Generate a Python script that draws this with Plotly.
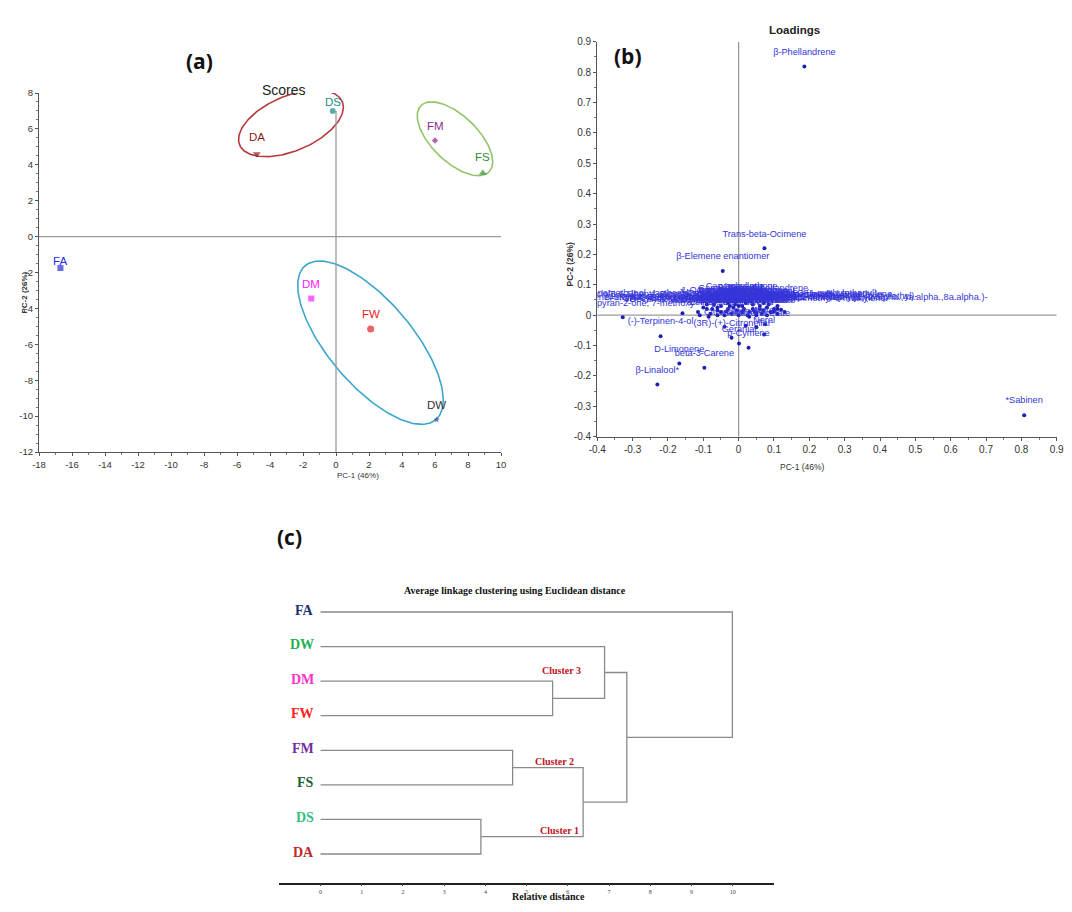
import numpy as np
import plotly.graph_objects as go

W, H = 1072, 912

# ---------------- data: (a) PCA scores ----------------
score_names = ["DS", "DA", "FM", "FS", "FA", "DM", "FW", "DW"]
score_pc1 = [-0.2, -4.8, 6.0, 8.9, -16.7, -1.5, 2.1, 6.1]
score_pc2 = [7.0, 4.6, 5.35, 3.55, -1.75, -3.45, -5.15, -10.2]
a_xticks = [-18, -16, -14, -12, -10, -8, -6, -4, -2, 0, 2, 4, 6, 8, 10]
a_yticks = [-12, -10, -8, -6, -4, -2, 0, 2, 4, 6, 8]

# ---------------- data: (b) PCA loadings ----------------
loading_names = [
    "β-Phellandrene", "Trans-beta-Ocimene", "β-Elemene enantiomer", "*Sabinen",
    "(-)-Terpinen-4-ol", "D-Limonene", "beta-3-Carene", "β-Linalool*",
    "(3R)-(+)-Citronellal", "Geranial", "p-Cymene", "Neral",
    "Citronellal", "Citronellol", "Geraniol acetate", "Nerol",
    "2H-1-Benzopyran-2-one, 7-methoxy-", "Decanoic acid, ethyl ester",
    "2H-Pyran, 2-ethenyltetrahydro-2,6,6-trimethyl-",
    "Bicyclo[3.1.1]hept-2-ene, 2,6-dimethyl-6-(4-methyl-3-pentenyl)-",
    "α-Pinene", "Camphene", "β-Myrcene", "α-Phellandrene", "γ-Terpinene",
    "Terpinolene", "Eucalyptol", "Borneol", "Camphor", "α-Terpineol",
    "Geraniol", "Linalyl acetate", "Bornyl acetate", "α-Zingiberene",
    "β-Bisabolene", "ar-Curcumene", "β-Sesquiphellandrene", "α-Farnesene",
    "Germacrene D", "α-Humulene", "δ-Cadinene", "Nerolidol", "Elemol",
    "β-Eudesmol", "Spathulenol", "Dodecanal", "2-Undecanone", "2-Nonanone",
    "Menthone", "Isopulegol", "Caryophyllene", "Isomenthone",
    "1,6,10-Dodecatrien-3-ol, 3,7,11-trimethyl-, (E)-",
    "Cyclohexene, 4-methyl-1-(1-methylethyl)-",
    "1H-Cycloprop[e]azulene, decahydro-1,1,7-trimethyl-4-methylene-",
    "1-Naphthalenol, 1,2,3,4,4a,7,8,8a-octahydro-1,6-dimethyl-4-(1-methylethyl)-",
    "Naphthalene, 1,2,3,4,4a,5,6,8a-octahydro-4a,8-dimethyl-2-(1-methylethyl)-, (2.alpha.,4a.alpha.,8a.alpha.)-",
    "Sabinene hydrate", "Linalool oxide", "Myrtenal", "Carvone", "Thymol",
    "Carvacrol", "Piperitone", "Pulegone", "Octanal", "Nonanal",
    "1-Octen-3-ol", "trans-Sabinene hydrate", "Methyl eugenol", "Safrole", "Estragole",
    "Cyclohexanemethanol, 4-ethenyl-.alpha.,.alpha.,4-trimethyl-3-(1-methylethenyl)-",
    "Bicyclo[7.2.0]undec-4-ene, 4,11,11-trimethyl-8-methylene-",
]
loading_pc1 = [
    0.186, 0.073, -0.045, 0.808,
    -0.221, -0.168, -0.097, -0.230,
    -0.020, 0.001, 0.028, 0.072,
    -0.040, 0.020, 0.050, 0.075,
    -0.328, -0.159,
    -0.115,
    -0.090,
    -0.060, -0.050, -0.030, -0.020, 0.010,
    0.030, 0.040, -0.070, 0.060, -0.040,
    0.020, -0.080, 0.050, 0.080,
    0.090, -0.010, 0.070, 0.100,
    -0.030, 0.040, -0.100, 0.110, -0.005,
    0.000, 0.030, -0.060, 0.060, 0.015,
    0.080, -0.015, -0.010, 0.035,
    0.100,
    0.120,
    0.050,
    0.070,
    0.095,
    -0.050, 0.010, -0.025, 0.045, 0.065,
    -0.035, 0.000, 0.085, -0.075, 0.110,
    -0.090, 0.025, -0.110, 0.130, -0.085,
    -0.060,
    0.110,
]
loading_pc2 = [
    0.818, 0.220, 0.145, -0.329,
    -0.069, -0.159, -0.173, -0.228,
    -0.074, -0.093, -0.107, -0.064,
    -0.038, -0.035, -0.040, -0.030,
    -0.007, 0.006,
    0.010,
    0.020,
    0.015, 0.030, 0.020, 0.005, 0.030,
    0.010, 0.035, 0.035, 0.020, 0.000,
    0.040, 0.005, 0.000, 0.025,
    0.010, 0.035, 0.040, 0.020,
    0.040, 0.020, 0.025, 0.005, 0.015,
    0.000, -0.005, 0.000, 0.030, 0.020,
    0.000, 0.025, 0.046, 0.046,
    0.012,
    0.018,
    0.008,
    0.015,
    0.010,
    0.010, 0.010, 0.030, 0.012, 0.005,
    0.012, 0.030, 0.035, 0.020, 0.030,
    0.035, 0.000, 0.000, 0.010, -0.005,
    0.025,
    0.020,
]
b_ticks = [-0.4, -0.3, -0.2, -0.1, 0, 0.1, 0.2, 0.3, 0.4, 0.5, 0.6, 0.7, 0.8, 0.9]

# ---------------- data: (c) dendrogram ----------------
leaf_names = ["DA", "DS", "FS", "FM", "FW", "DM", "DW", "FA"]   # bottom -> top
merge_left = [1, 3, 5, 8, 6, 12, 7]
merge_right = [0, 2, 4, 9, 10, 11, 13]
merge_height = [3.89, 4.66, 5.63, 6.37, 6.89, 7.43, 9.99]
cluster_labels = ["Cluster 1", "Cluster 2", "Cluster 3"]
distance_ticks = list(range(0, 11))

# ---------------- styles ----------------
SANS = "Liberation Sans, Arial, sans-serif"
SERIF = "Liberation Serif, Times New Roman, serif"
BOLDSANS = "Open Sans, Noto Sans, sans-serif"

score_colors = ["#1b8c8c", "#8b1c1c", "#8b2c8c", "#2e8b2e", "#2a2ae6", "#ff20ff", "#e62020", "#333333"]
score_marker_colors = ["#1b8c8c", "#8b1c1c", "#8b2c8c", "#2e8b2e", "#2a2ae6", "#ff20ff", "#e62020", "#334488"]
score_symbols = ["circle", "triangle-down", "diamond", "triangle-up", "square", "square", "circle", "star"]
score_sizes = [6, 7, 5, 7, 6, 6, 7, 5]
score_label_yshift = [9, 17, 15, 16, 7, 15, 15, 15]

leaf_colors = {"FA": "#1f2f6e", "DW": "#22b050", "DM": "#ff33cc", "FW": "#ff2020",
               "FM": "#7030a0", "FS": "#1a6630", "DS": "#33c080", "DA": "#c0282a"}


def dom_x(a, b):
    return [a / W, b / W]


def dom_y(top, bottom):
    return [1 - bottom / H, 1 - top / H]


def fmt(v):
    return ("%g" % v)


# pixel frames of the three panels
A_X, A_Y = (39, 501), (93, 452)
B_X, B_Y = (597.3, 1056.7), (41.7, 436.7)
C_X, C_Y = (279.3, 774), (600, 882.7)

A_XR, A_YR = [-18, 10], [-12, 8]
B_XR, B_YR = [-0.4, 0.9], [-0.4, 0.9]
C_XR = [-1, 11]
leaf_px = 34.571
C_YR = [-(882.7 - 854) / leaf_px, 7 + 12 / leaf_px]

fig = go.Figure()

# ---------- (a) ellipses (drawn as closed curves) ----------
ellipses = [
    dict(c=(-2.73, 6.31), u=(3.11, 1.21), v=(-0.65, 1.41), color="#b5393b"),
    dict(c=(7.21, 5.45), u=(2.07, -1.84), v=(0.97, 0.92), color="#92c46a"),
    dict(c=(2.09, -5.91), u=(3.96, -4.29), v=(1.94, 1.515), color="#3aa6cc"),
]
t = np.linspace(0, 2 * np.pi, 200)
for e in ellipses:
    ex = e["c"][0] + e["u"][0] * np.cos(t) + e["v"][0] * np.sin(t)
    ey = e["c"][1] + e["u"][1] * np.cos(t) + e["v"][1] * np.sin(t)
    fig.add_trace(go.Scatter(x=ex, y=ey, mode="lines", line=dict(color=e["color"], width=1.6),
                             hoverinfo="skip", showlegend=False, xaxis="x", yaxis="y"))

# zero lines (a)
fig.add_trace(go.Scatter(x=A_XR, y=[0, 0], mode="lines", line=dict(color="#9a9a9a", width=1.3),
                         hoverinfo="skip", showlegend=False, xaxis="x", yaxis="y"))
fig.add_trace(go.Scatter(x=[0, 0], y=[7.0, A_YR[0]], mode="lines", line=dict(color="#9a9a9a", width=1.3),
                         hoverinfo="skip", showlegend=False, xaxis="x", yaxis="y"))

fig.add_trace(go.Scatter(
    x=score_pc1, y=score_pc2, mode="markers", text=score_names,
    marker=dict(color=score_marker_colors, symbol=score_symbols, size=score_sizes, line=dict(width=0)),
    showlegend=False, xaxis="x", yaxis="y"))

annotations = []
for n, x, y, c, ys in zip(score_names, score_pc1, score_pc2, score_colors, score_label_yshift):
    annotations.append(dict(x=x, y=y, xref="x", yref="y", text=n, showarrow=False,
                            yshift=ys, font=dict(family=SANS, size=11.5, color=c)))

# ---------- (b) loadings ----------
fig.add_trace(go.Scatter(x=B_XR, y=[0, 0], mode="lines", line=dict(color="#9a9a9a", width=1.3),
                         hoverinfo="skip", showlegend=False, xaxis="x2", yaxis="y2"))
fig.add_trace(go.Scatter(x=[0, 0], y=B_YR, mode="lines", line=dict(color="#9a9a9a", width=1.3),
                         hoverinfo="skip", showlegend=False, xaxis="x2", yaxis="y2"))
fig.add_trace(go.Scatter(x=loading_pc1, y=loading_pc2, mode="markers",
                         marker=dict(color="#1f1fb4", size=4), showlegend=False,
                         xaxis="x2", yaxis="y2"))
b_ppu_y = (B_Y[1] - B_Y[0]) / (B_YR[1] - B_YR[0])
label_dy = 14 / b_ppu_y
fig.add_trace(go.Scatter(x=loading_pc1, y=[v + label_dy for v in loading_pc2], mode="text",
                         text=loading_names, textposition="middle center",
                         textfont=dict(family=SANS, size=9.2, color="#3434d8"),
                         cliponaxis=True, showlegend=False, hoverinfo="skip",
                         xaxis="x2", yaxis="y2"))

# ---------- (c) dendrogram ----------
pos = {i: (0.0, float(i)) for i in range(len(leaf_names))}
seg_x, seg_y = [], []
for k, (a, b, h) in enumerate(zip(merge_left, merge_right, merge_height)):
    xa, ya = pos[a]
    xb, yb = pos[b]
    seg_x += [xa, h, h, xb, None]
    seg_y += [ya, ya, yb, yb, None]
    pos[len(leaf_names) + k] = (h, (ya + yb) / 2)
fig.add_trace(go.Scatter(x=seg_x, y=seg_y, mode="lines", line=dict(color="#8a8a8a", width=1.3),
                         hoverinfo="skip", showlegend=False, xaxis="x3", yaxis="y3"))

for i, n in enumerate(leaf_names):
    annotations.append(dict(x=-0.12, y=i, xref="x3", yref="y3", text="<b>%s</b>" % n, showarrow=False,
                            xanchor="right", yshift=2, font=dict(family=SERIF, size=14, color=leaf_colors[n])))

cluster_pos = [(6.33, 0.69), (6.2, 2.69), (6.37, 5.32)]
for lab, (cx, cy) in zip(cluster_labels, cluster_pos):
    annotations.append(dict(x=cx, y=cy, xref="x3", yref="y3", text="<b>%s</b>" % lab, showarrow=False,
                            xanchor="right", font=dict(family=SERIF, size=10, color="#c0141c")))


# ---------- titles / panel letters / axis titles ----------
def paper(text, px, py, size, family, color="#111", bold=False, angle=0):
    annotations.append(dict(x=px / W, y=1 - py / H, xref="paper", yref="paper",
                            text=("<b>%s</b>" % text) if bold else text, showarrow=False,
                            textangle=angle, font=dict(family=family, size=size, color=color)))


paper("(a)", 184, 45, 21, BOLDSANS, bold=True)
paper("(b)", 628, 40, 21, BOLDSANS, bold=True)
paper("(c)", 275, 537, 21, BOLDSANS, bold=True)
paper("Scores", 260, 80, 14, SANS, "#222")
paper("Loadings", 822, 22, 11.5, SANS, "#222", bold=True)
paper("Average linkage clustering using Euclidean distance", 515, 590, 10, SERIF, "#111", bold=True)
paper("PC-1 (46%)", 335, 476, 8, SANS, "#333")
paper("PC-2 (26%)", 17, 270, 8, SANS, "#333", bold=True, angle=-90)
paper("PC-1 (46%)", 827, 467, 8.5, SANS, "#333")
paper("PC-2 (26%)", 570, 240, 8.5, SANS, "#333", bold=True, angle=-90)
paper("Relative distance", 548, 904, 10, SERIF, "#111", bold=True)

fig.update_layout(annotations=annotations)

axis_common = dict(showgrid=False, zeroline=False, showline=True, linecolor="#555", linewidth=1.2,
                   ticks="outside", ticklen=3, tickcolor="#555", mirror=False, automargin=False)

fig.update_layout(
    width=W, height=H, autosize=False,
    margin=dict(l=0, r=0, t=0, b=0, pad=0, autoexpand=False),
    paper_bgcolor="white", plot_bgcolor="rgba(0,0,0,0)",
    showlegend=False,
    xaxis=dict(domain=dom_x(*A_X), range=A_XR, anchor="y",
               tickvals=a_xticks, ticktext=[fmt(v) for v in a_xticks],
               tickfont=dict(family=SANS, size=9.5, color="#333"),
               minor=dict(dtick=1, ticks="outside", ticklen=2, tickcolor="#777"),
               **axis_common),
    yaxis=dict(domain=dom_y(*A_Y), range=A_YR, anchor="x",
               tickvals=a_yticks, ticktext=[fmt(v) for v in a_yticks],
               tickfont=dict(family=SANS, size=9.5, color="#333"),
               minor=dict(dtick=0.5, ticks="outside", ticklen=2, tickcolor="#777"),
               **axis_common),
    xaxis2=dict(domain=dom_x(*B_X), range=B_XR, anchor="y2",
                tickvals=b_ticks, ticktext=[fmt(v) for v in b_ticks],
                tickfont=dict(family=SANS, size=10, color="#333"),
                minor=dict(dtick=0.05, ticks="outside", ticklen=2, tickcolor="#777"),
                **axis_common),
    yaxis2=dict(domain=dom_y(*B_Y), range=B_YR, anchor="x2",
                tickvals=b_ticks, ticktext=[fmt(v) for v in b_ticks],
                tickfont=dict(family=SANS, size=10, color="#333"),
                minor=dict(dtick=0.05, ticks="outside", ticklen=2, tickcolor="#777"),
                **axis_common),
    xaxis3=dict(domain=dom_x(*C_X), range=C_XR, anchor="y3", tickvals=distance_ticks,
                showgrid=False, zeroline=False, showline=True, linecolor="#222", linewidth=1.5,
                ticks="outside", ticklen=2, tickcolor="#444", automargin=False,
                tickfont=dict(family=SERIF, size=6, color="#444")),
    yaxis3=dict(domain=dom_y(*C_Y), range=C_YR, anchor="x3", visible=False),
)

fig.write_html("out.html", config={"displayModeBar": False},
               post_script="document.body.style.margin='0px';")
